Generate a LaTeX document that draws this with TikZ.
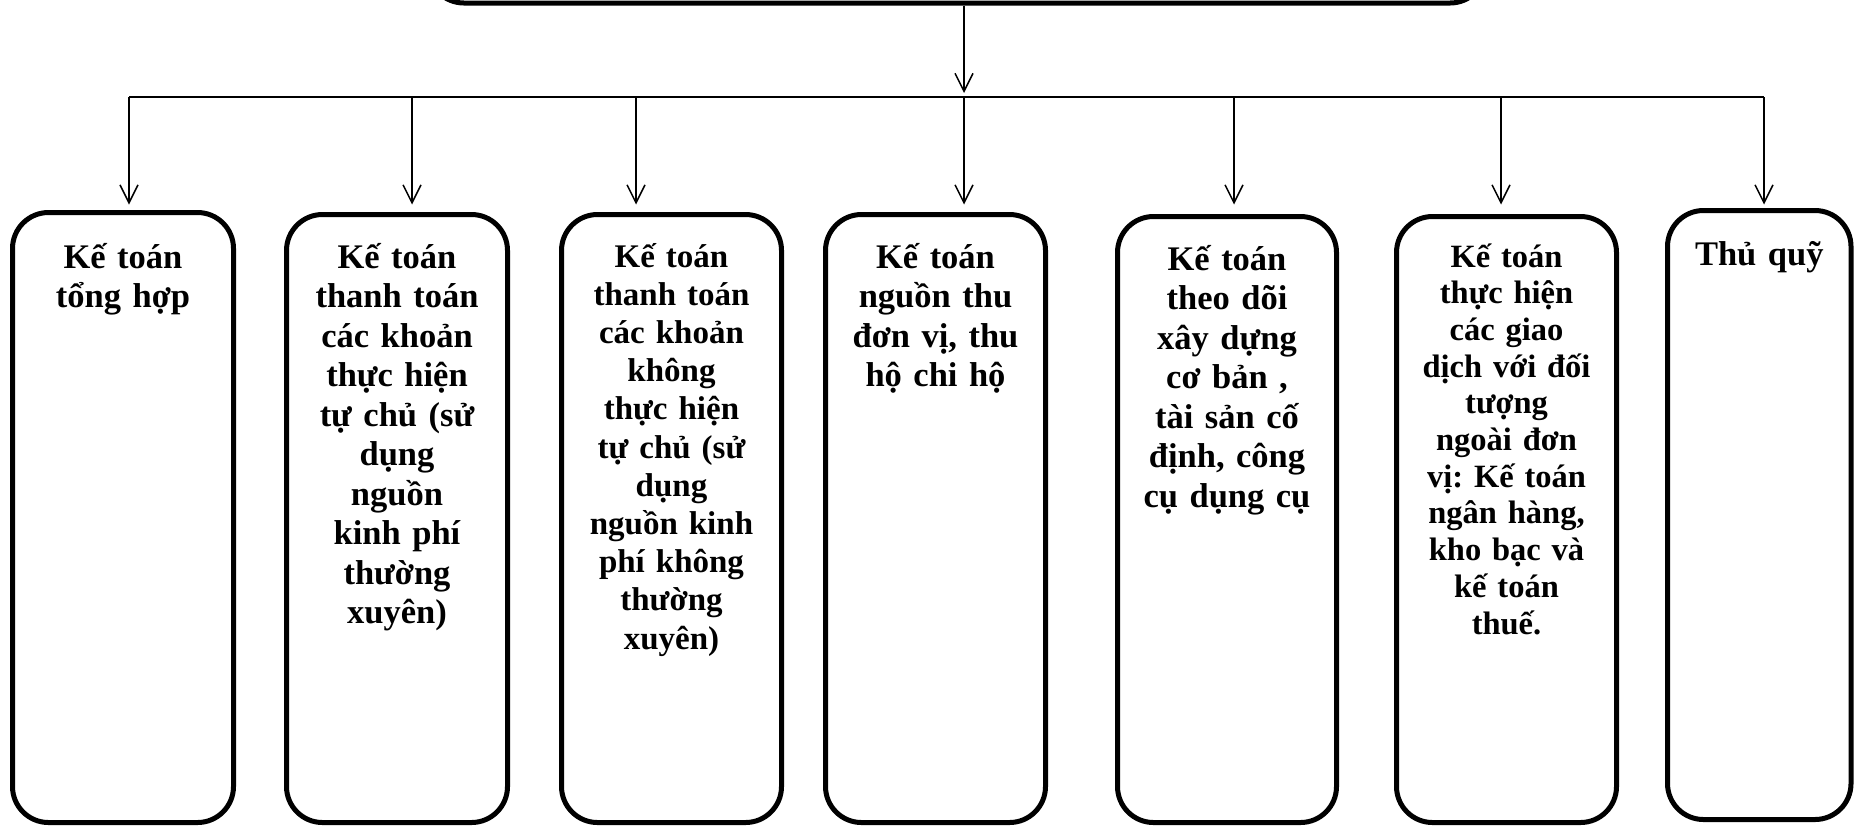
\documentclass[tikz,border=0pt]{standalone}
\usepackage{fontspec}
\setmainfont{Liberation Serif}
\usetikzlibrary{arrows.meta}
\frenchspacing

\begin{document}
\begin{tikzpicture}[x=0.5pt, y=-0.5pt,
  kbox/.style={draw, line width=2.5pt, rounded corners=18pt, inner sep=0pt},
  conn/.style={line width=0.75pt},
  arr/.style={conn, -{Straight Barb[length=9pt, width=9pt]}},
  ktext/.style={anchor=base, align=center, inner sep=0pt, text width=106pt,
    font=\bfseries\fontsize{17.25}{19.75}\selectfont},
  ktextB/.style={ktext, font=\bfseries\fontsize{16.5}{19.1}\selectfont},
  ktextC/.style={ktext, font=\bfseries\fontsize{16.25}{18.35}\selectfont}
]
\useasboundingbox (0,0) rectangle (1855,827);

% head box (only its lower edge lies on the page)
\node[kbox, minimum width=529pt, minimum height=50pt] (top) at (957,-47) {};

% bus line and its junctions
\foreach \n/\x in {1/129, 2/412, 3/636, 4/964, 5/1234, 6/1501, 7/1764}
  \coordinate (j\n) at (\x,97);

% sub-units
\node[kbox, minimum width=110.5pt, minimum height=305pt] (k1) at (123,517.5) {};
\node[kbox, minimum width=110.5pt, minimum height=304pt] (k2) at (397,518.5) {};
\node[kbox, minimum width=110pt,   minimum height=304pt] (k3) at (671.5,518.5) {};
\node[kbox, minimum width=110pt,   minimum height=304pt] (k4) at (935.5,518.5) {};
\node[kbox, minimum width=109.5pt, minimum height=303pt] (k5) at (1227,519.5) {};
\node[kbox, minimum width=110pt,   minimum height=303pt] (k6) at (1506.5,519.5) {};
\node[kbox, minimum width=91.75pt, minimum height=304.5pt] (k7) at (1759.25,515) {};

% labels
\node[ktext]  (t1) at (123,268)   {Kế toán\\tổng hợp};
\node[ktext]  (t2) at (397,268)   {Kế toán\\thanh toán\\các khoản\\thực hiện\\tự chủ (sử\\dụng\\nguồn\\kinh phí\\thường\\xuyên)};
\node[ktextB] (t3) at (671.5,267) {Kế toán\\thanh toán\\các khoản\\không\\thực hiện\\tự chủ (sử\\dụng\\nguồn kinh\\phí không\\thường\\xuyên)};
\node[ktext]  (t4) at (935.5,268) {Kế toán\\nguồn thu\\đơn vị, thu\\hộ chi hộ};
\node[ktext]  (t5) at (1227,270)  {Kế toán\\theo dõi\\xây dựng\\cơ bản ,\\tài sản cố\\định, công\\cụ dụng cụ};
\node[ktextC] (t6) at (1506.5,267) {Kế toán\\thực hiện\\các giao\\dịch với đối\\tượng\\ngoài đơn\\vị: Kế toán\\ngân hàng,\\kho bạc và\\kế toán\\thuế.};
\node[ktext]  (t7) at (1759.25,265) {Thủ quỹ};

% connectors
\draw[arr, shorten >=2pt] (top.south -| j4) -- (j4);
\draw[conn] (j1) -- (j7);
\foreach \n/\s in {1/2.75, 2/3.75, 3/3.75, 4/3.75, 5/4.75, 6/4.75, 7/1.75}
  \draw[arr, shorten >=\s pt] (j\n) -- (j\n |- k\n.north);
\end{tikzpicture}
\end{document}
